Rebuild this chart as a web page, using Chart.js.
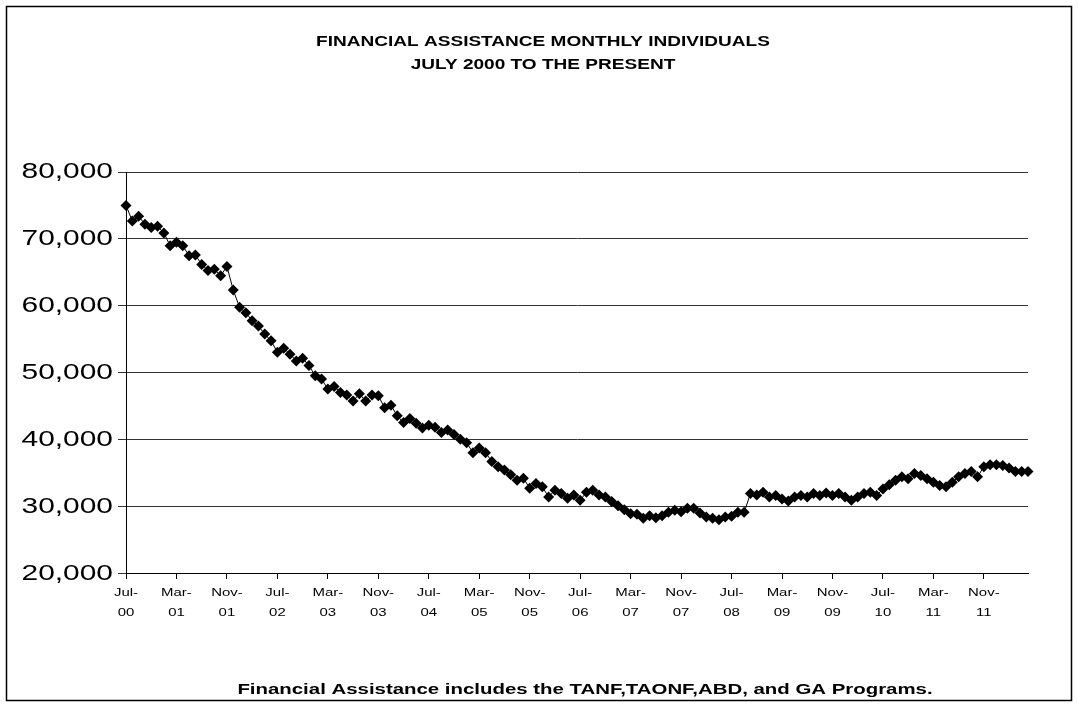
<!DOCTYPE html>
<html>
<head>
<meta charset="utf-8">
<script src="https://cdn.jsdelivr.net/npm/chart.js@4/dist/chart.umd.min.js"></script>
<style>
  html, body { margin: 0; padding: 0; background: #fff; }
  #wrap { position: relative; width: 1078px; height: 707px; }
</style>
</head>
<body>
<div id="wrap"><canvas id="chart" width="1078" height="707"></canvas></div>
<script>
'use strict'

// months from Jul 2000 to Jun 2012
let monthNames = ['Jan', 'Feb', 'Mar', 'Apr', 'May', 'Jun', 'Jul', 'Aug', 'Sep', 'Oct', 'Nov', 'Dec'];
let startYear = 2000;
let startMonth = 6; // July

let individuals = [
    75000, 72700, 73400, 72200, 71700, 71900, 70900, 69000, 69500, 69000, 67500, 67600,
    66200, 65300, 65500, 64500, 65900, 62400, 59800, 59000, 57800, 57000, 55800, 54800,
    53100, 53700, 52800, 51800, 52200, 51100, 49600, 49100, 47600, 48000, 47100, 46700,
    45800, 46900, 45800, 46700, 46600, 44800, 45200, 43600, 42600, 43200, 42500, 41800,
    42200, 41900, 41100, 41500, 40800, 40100, 39600, 38100, 38800, 38100, 36800, 36000,
    35500, 34800, 34000, 34300, 32800, 33500, 33000, 31500, 32500, 32000, 31300, 31800,
    31000, 32200, 32500, 31800, 31500, 30800, 30200, 29600, 29000, 28900, 28300, 28700,
    28400, 28700, 29200, 29500, 29300, 29800, 29800, 29100, 28500, 28300, 28100, 28500,
    28600, 29200, 29200, 32000, 31800, 32200, 31500, 31700, 31200, 30900, 31500, 31700,
    31500, 32000, 31700, 32100, 31700, 32000, 31500, 31000, 31500, 32000, 32200, 31700,
    32700, 33300, 34000, 34500, 34200, 35000, 34700, 34200, 33700, 33200, 33000, 33700,
    34500, 35000, 35300, 34500, 36000, 36300, 36300, 36200, 35800, 35300, 35300, 35300
];

let labels = [];
for (let i = 0; i < individuals.length; i++) {
    let m = (startMonth + i) % 12;
    let y = startYear + Math.floor((startMonth + i) / 12);
    labels.push(monthNames[m] + '-' + String(y % 100).padStart(2, '0'));
}

let titleLines = ['FINANCIAL ASSISTANCE MONTHLY INDIVIDUALS', 'JULY 2000 TO THE PRESENT'];
let footNote = 'Financial Assistance includes the TANF,TAONF,ABD, and GA Programs.';

let canvas = document.getElementById('chart');
let ctx2d = canvas.getContext('2d');

// the original picture is stretched sideways, so stretch every text the same way
let textStretch = 1.36;
let plainFillText = ctx2d.fillText;
ctx2d.fillText = function (text, x, y) {
    this.save();
    this.translate(x, y);
    this.scale(textStretch, 1);
    plainFillText.call(this, text, 0, 0);
    this.restore();
};

// outer frame, title and the note under the chart
const frame = {
    id: 'frame',
    afterDraw(chart) {
        let ctx = chart.ctx;
        ctx.save();
        ctx.strokeStyle = '#000';
        ctx.lineWidth = 1.5;
        ctx.strokeRect(6.5, 6.5, 1065, 694);

        ctx.fillStyle = '#000';
        ctx.textAlign = 'center';
        ctx.textBaseline = 'middle';
        ctx.font = 'bold 14px Arial, "Liberation Sans"';
        ctx.fillText(titleLines[0], 543, 42);
        ctx.fillText(titleLines[1], 543, 65);
        ctx.font = 'bold 15px Arial, "Liberation Sans"';
        ctx.fillText(footNote, 585, 690);
        ctx.restore();
    }
};

new Chart(canvas, {
    type: 'line',
    data: {
        labels: labels,
        datasets: [{
            data: individuals,
            borderColor: '#000',
            borderWidth: 1,
            backgroundColor: '#000',
            pointStyle: 'rectRot',
            pointRadius: 5.5,
            pointBorderWidth: 0,
            pointBackgroundColor: '#000',
            tension: 0,
            clip: false
        }]
    },
    options: {
        responsive: false,
        animation: false,
        layout: { padding: { left: 0, right: 50, top: 172, bottom: 80 } },
        plugins: {
            legend: { display: false },
            tooltip: { enabled: false }
        },
        scales: {
            x: {
                offset: false,
                grid: { display: true, drawOnChartArea: false, drawTicks: true, tickLength: 5, color: '#000' },
                border: { display: true, color: '#000', width: 1 },
                ticks: {
                    autoSkip: false,
                    maxRotation: 0,
                    padding: 4,
                    color: '#000',
                    font: { family: 'Arial, "Liberation Sans"', size: 11, lineHeight: 1.82 },
                    callback: function (value, index) {
                        if (index % 8 !== 0) return null;
                        let parts = labels[index].split('-');
                        return [parts[0] + '-', parts[1]];
                    }
                }
            },
            y: {
                min: 20000,
                max: 80000,
                afterFit: function (scale) { scale.width = 126; },
                grid: { color: '#333', lineWidth: 1, drawTicks: true, tickLength: 8 },
                border: { display: true, color: '#000', width: 1 },
                ticks: {
                    stepSize: 10000,
                    padding: 5,
                    color: '#000',
                    font: { family: 'Arial, "Liberation Sans"', size: 22 },
                    callback: function (value) { return value.toLocaleString('en-US'); }
                }
            }
        }
    },
    plugins: [frame]
});
</script>
</body>
</html>
